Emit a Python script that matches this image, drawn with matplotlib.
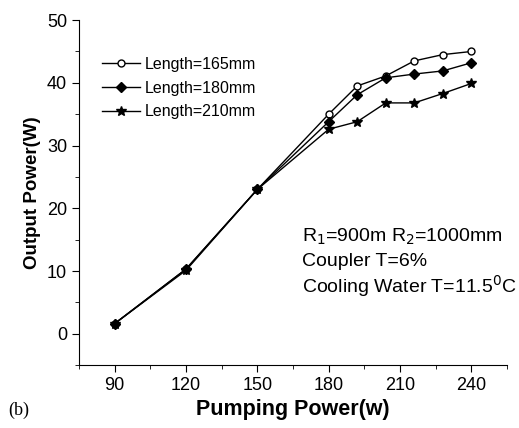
import matplotlib
matplotlib.use("Agg")
import matplotlib.pyplot as plt
from matplotlib.ticker import MultipleLocator

plt.rcParams['font.family'] = ['Liberation Sans', 'DejaVu Sans']

# pumping power (W)
pump = [90, 120, 150, 180, 192, 204, 216, 228, 240]
# output power (W) for each rod length
p165 = [1.6, 10.3, 23.0, 35.0, 39.5, 41.1, 43.5, 44.5, 45.0]
p180 = [1.6, 10.3, 23.0, 33.8, 38.1, 40.8, 41.4, 41.9, 43.2]
p210 = [1.6, 10.1, 23.0, 32.6, 33.8, 36.8, 36.8, 38.3, 39.9]

fig = plt.figure(figsize=(5.19, 4.28), dpi=100)
ax = fig.add_axes([0.152, 0.147, 0.825, 0.806])

ax.plot(pump, p165, '-o', color='black', mfc='white', ms=5, lw=1, label='Length=165mm')
ax.plot(pump, p180, '-D', color='black', ms=5, lw=1, label='Length=180mm')
ax.plot(pump, p210, '-*', color='black', ms=7, lw=1, label='Length=210mm')

ax.set_xlim(75, 255)
ax.set_ylim(-5, 50)
ax.set_xticks(pump[:3] + [180, 210, 240])
ax.xaxis.set_minor_locator(MultipleLocator(15))
ax.yaxis.set_major_locator(MultipleLocator(10))
ax.yaxis.set_minor_locator(MultipleLocator(5))
ax.tick_params(which='both', direction='out', labelsize=13)
ax.tick_params(which='major', length=5)
ax.tick_params(which='minor', length=3)
ax.spines['top'].set_visible(False)
ax.spines['right'].set_visible(False)

ax.set_xlabel('Pumping Power(w)', fontsize=15.5, fontweight='bold', labelpad=4)
ax.set_ylabel('Output Power(W)', fontsize=13.5, fontweight='bold', labelpad=4)

ax.legend(loc='upper left', bbox_to_anchor=(0.02, 0.935), frameon=False,
          fontsize=11.5, handlelength=2.4, labelspacing=0.55, handletextpad=0.3)

ax.text(0.52, 0.371, 'R$_1$=900m R$_2$=1000mm', transform=ax.transAxes,
        fontsize=14, va='center')
ax.text(0.52, 0.299, 'Coupler T=6%', transform=ax.transAxes, fontsize=14, va='center')
ax.text(0.52, 0.229, 'Cooling Water T=11.5$^0$C', transform=ax.transAxes,
        fontsize=14, va='center')

fig.text(0.015, 0.03, '(b)', fontsize=13, family='Liberation Serif')

fig.savefig('out.png', dpi=100)
